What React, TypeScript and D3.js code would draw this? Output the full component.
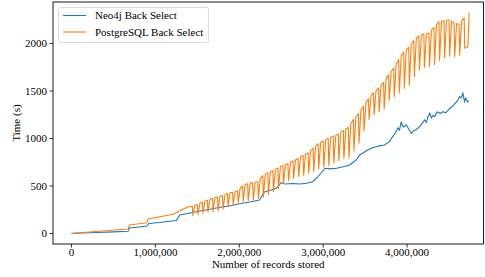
import React from 'react';
import * as d3 from 'd3';

// Neo4j back select: [records, seconds]
const NEO4J: [number, number][] = [
  [0, 0], [120000, 5], [300000, 11], [500000, 17], [676000, 23], [690000, 58],
  [800000, 68], [900000, 79], [922000, 105], [1050000, 115], [1250000, 137],
  [1290000, 195], [1430000, 219], [1530000, 237], [1650000, 255], [1770000, 276],
  [1880000, 290], [1990000, 311], [2125000, 332], [2240000, 353], [2300000, 437],
  [2370000, 455], [2440000, 476], [2500000, 535], [2540000, 521], [2640000, 527],
  [2720000, 521], [2800000, 529], [2875000, 545], [2935000, 595], [3020000, 687],
  [3090000, 680], [3160000, 687], [3210000, 698], [3255000, 705], [3315000, 721],
  [3350000, 745], [3395000, 774], [3435000, 827], [3480000, 850], [3530000, 879],
  [3580000, 900], [3633000, 914], [3680000, 925], [3730000, 932], [3790000, 967],
  [3820000, 1010], [3860000, 1058], [3890000, 1110], [3910000, 1090], [3930000, 1177],
  [3945000, 1130], [3960000, 1121], [3990000, 1143], [4020000, 1100], [4050000, 1055],
  [4075000, 1080], [4100000, 1090], [4125000, 1105], [4150000, 1125], [4180000, 1160],
  [4210000, 1195], [4230000, 1170], [4250000, 1230], [4270000, 1266], [4290000, 1216],
  [4310000, 1245], [4330000, 1230], [4345000, 1260], [4360000, 1279], [4395000, 1265],
  [4430000, 1283], [4450000, 1270], [4470000, 1279], [4490000, 1300], [4510000, 1318],
  [4540000, 1335], [4565000, 1364], [4595000, 1390], [4625000, 1440], [4645000, 1430],
  [4665000, 1476], [4685000, 1388], [4700000, 1427], [4720000, 1385], [4735000, 1398],
];

// PostgreSQL: smooth start before the sawtooth
const PG_START: [number, number][] = [
  [0, 0], [14000, 2], [676000, 47], [690000, 90], [900000, 114], [914000, 153],
  [1054000, 177], [1210000, 202], [1270000, 230], [1390000, 282],
];

// PostgreSQL periodic dips: [records, level, dip bottom]
const PG_SPIKES: [number, number, number][] = [
  [1440000, 285, 190], [1500000, 305, 200], [1560000, 330, 215], [1620000, 350, 225],
  [1680000, 370, 232], [1740000, 385, 240], [1800000, 400, 258], [1860000, 420, 285],
  [1920000, 435, 300], [1980000, 450, 325], [2040000, 500, 340], [2100000, 525, 345],
  [2160000, 535, 355], [2220000, 545, 370], [2280000, 610, 385], [2340000, 640, 410],
  [2400000, 660, 440], [2460000, 690, 470], [2520000, 715, 525], [2580000, 735, 555],
  [2640000, 765, 580], [2700000, 790, 600], [2760000, 820, 615], [2820000, 850, 635],
  [2880000, 895, 655], [2940000, 945, 680], [3000000, 975, 700], [3060000, 1000, 715],
  [3120000, 1025, 740], [3180000, 1045, 765], [3240000, 1085, 790], [3300000, 1115, 800],
  [3360000, 1200, 870], [3420000, 1260, 950], [3480000, 1340, 1080], [3540000, 1420, 1200],
  [3600000, 1480, 1250], [3660000, 1530, 1280], [3720000, 1590, 1310], [3780000, 1670, 1400],
  [3840000, 1740, 1440], [3900000, 1830, 1480], [3960000, 1910, 1530], [4020000, 1960, 1560],
  [4080000, 2030, 1650], [4140000, 2080, 1720], [4200000, 2100, 1750], [4260000, 2110, 1760],
  [4320000, 2170, 1780], [4380000, 2230, 1820], [4440000, 2240, 1850], [4500000, 2250, 1870],
  [4560000, 2220, 1860], [4620000, 2200, 1880], [4680000, 2270, 1950],
];

const PG_END: [number, number][] = [[4700000, 1955], [4725000, 1965], [4740000, 2325]];

const X_TICKS = [0, 1000000, 2000000, 3000000, 4000000];
const Y_TICKS = [0, 500, 1000, 1500, 2000];

const SERIES = [
  { label: 'Neo4j Back Select', color: '#1f77b4' },
  { label: 'PostgreSQL Back Select', color: '#ff7f0e' },
];

export default function App() {
  const W = 485, H = 277;
  const L = 53, R = 483.5, T = 2, B = 244;
  const font = '"Liberation Serif", "Times New Roman", serif';
  const txt = { fontFamily: font, fontSize: 11, fill: '#000' } as React.CSSProperties;

  const x = d3.scaleLinear().domain([-220200, 4910700]).range([L, R]);
  const y = d3.scaleLinear().domain([-110.5, 2436.8]).range([B, T]);

  // each dip: drop straight down, climb back to the level shortly after
  const pg: [number, number][] = [...PG_START];
  PG_SPIKES.forEach(([rx, hi, lo], i) => {
    pg.push([rx, hi]);
    pg.push([rx + 7000, lo]);
    if (i < PG_SPIKES.length - 1) pg.push([rx + 30000, (hi + PG_SPIKES[i + 1][1]) / 2]);
  });
  pg.push(...PG_END);

  const line = d3.line<[number, number]>().x((d) => x(d[0])).y((d) => y(d[1]));
  const fmt = d3.format(',');

  return (
    <div style={{ position: 'fixed', left: 0, top: 0 }}>
      <svg width={W} height={H} style={{ display: 'block', background: '#fff' }}>
        <path d={line(NEO4J) || ''} fill="none" stroke={SERIES[0].color} strokeWidth={1.1} />
        <path d={line(pg) || ''} fill="none" stroke={SERIES[1].color} strokeWidth={1.1} strokeLinejoin="round" />

        {/* spines */}
        <rect x={L} y={T} width={R - L} height={B - T} fill="none" stroke="#000" strokeWidth={0.9} />

        {X_TICKS.map((v) => (
          <g key={v} transform={`translate(${x(v)},0)`}>
            <line y1={B} y2={B + 3.5} stroke="#000" strokeWidth={0.8} />
            <text y={256} textAnchor="middle" style={txt}>{fmt(v)}</text>
          </g>
        ))}
        {Y_TICKS.map((v) => (
          <g key={v} transform={`translate(0,${y(v)})`}>
            <line x1={L - 3.5} x2={L} stroke="#000" strokeWidth={0.8} />
            <text x={47} dy="0.35em" textAnchor="end" style={txt}>{v}</text>
          </g>
        ))}

        <text x={(L + R) / 2} y={268} textAnchor="middle" style={txt}>Number of records stored</text>
        <text transform={`translate(20,${(T + B) / 2}) rotate(-90)`} textAnchor="middle" style={txt}>Time (s)</text>

        {/* legend */}
        <rect x={58.5} y={7.5} width={150} height={35} rx={2} fill="#fff" fillOpacity={0.8} stroke="#d0d0d0" strokeWidth={0.8} />
        {SERIES.map((s, i) => (
          <g key={s.label} transform={`translate(0,${15.5 + i * 16.5})`}>
            <line x1={63} x2={86} stroke={s.color} strokeWidth={1.1} />
            <text x={95} dy="0.35em" style={txt}>{s.label}</text>
          </g>
        ))}
      </svg>
    </div>
  );
}
